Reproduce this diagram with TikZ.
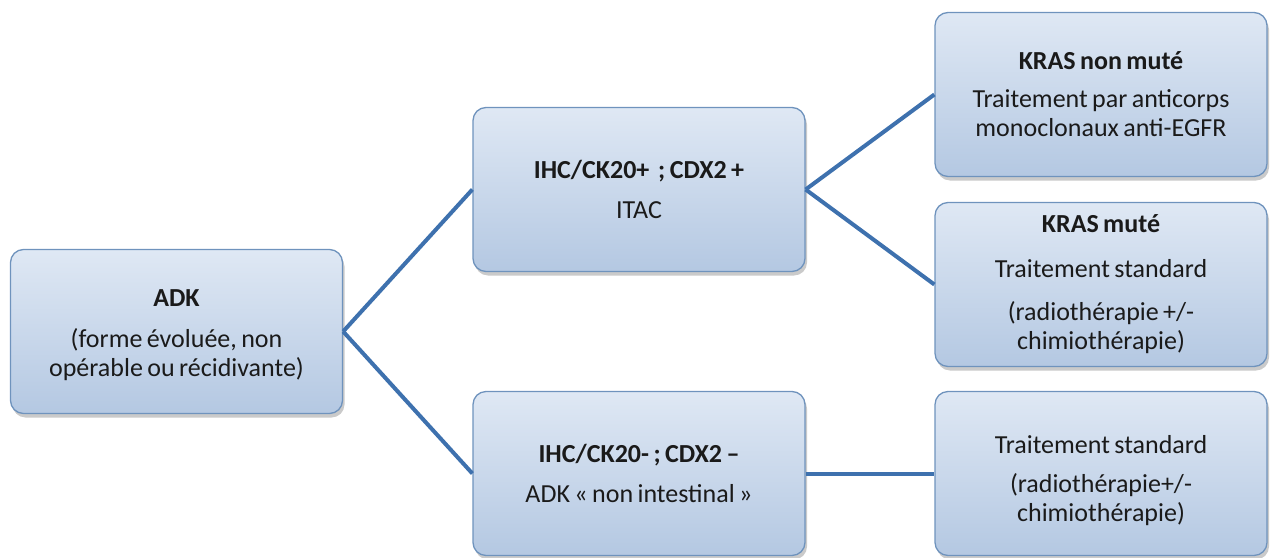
\documentclass[tikz,border=0pt]{standalone}
\usepackage{fontspec}
\setmainfont{Carlito}[WordSpace=0.75]
\usetikzlibrary{shadows}
\definecolor{boxtop}{HTML}{DFE8F4}
\definecolor{boxbot}{HTML}{B4C8E2}
\definecolor{boxline}{HTML}{6F93BD}
\definecolor{linkc}{HTML}{3E71AE}
\definecolor{txt}{HTML}{1A1A1A}
\tikzset{
  boxtext/.style={align=flush center, text=txt, font=\fontsize{26}{29}\selectfont},
  box/.style={boxtext, draw=boxline, line width=1.3pt, rounded corners=13pt,
    top color=boxtop, bottom color=boxbot,
    minimum width=332pt, minimum height=164pt, inner sep=4pt,
    text width=324pt,
    drop shadow={shadow xshift=2pt, shadow yshift=-4pt, opacity=0.35, fill=black!60}},
  link/.style={draw=linkc, line width=4pt}
}
\begin{document}
\begin{tikzpicture}[x=1pt,y=-1pt]
\useasboundingbox (0,0) rectangle (1271,557);
\node[box] (adk) at (176.5,331.5) {};
\node[boxtext] (adktext) at (176.5,335) {\textbf{ADK}\\[12pt](forme évoluée, non\\opérable ou récidivante)};
\node[box] (ihcp) at (639,189.5) {\textbf{IHC/CK20+\ \ ; CDX2 +}\\[11pt]ITAC};
\node[box] (ihcm) at (639,473.5) {\textbf{IHC/CK20- ; CDX2 –}\\[11pt]ADK « non intestinal »};
\node[box] (krasn) at (1101,94.5) {\textbf{KRAS non muté}\\[9pt]Traitement par anticorps\\monoclonaux anti-EGFR};
\node[box] (krasm) at (1101,284.5) {\textbf{KRAS muté}\\[16pt]Traitement standard\\[14pt](radiothérapie +/-\\chimiothérapie)};
\node[box] (ts) at (1101,473.5) {};
\node[boxtext] (tstext) at (1101,481) {Traitement standard\\[10pt](radiothérapie+/-\\chimiothérapie)};
\draw[link] (adk.east) -- (ihcp.west);
\draw[link] (adk.east) -- (ihcm.west);
\draw[link] (ihcp.east) -- (krasn.west);
\draw[link] (ihcp.east) -- (krasm.west);
\draw[link] (ihcm.east) -- (ts.west);
\end{tikzpicture}
\end{document}
